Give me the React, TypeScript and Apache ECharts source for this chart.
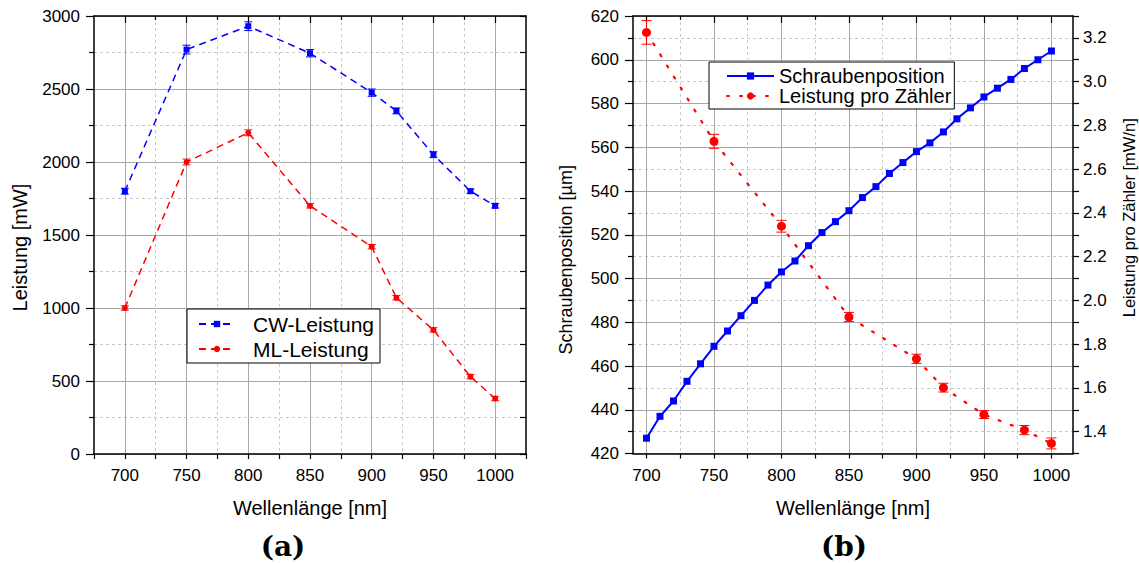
import { useEffect, useRef } from 'react';
import * as echarts from 'echarts';

// Left panel: output power vs. wavelength
const wavelengths = [700, 750, 800, 850, 900, 920, 950, 980, 1000];
const cwPower = [1800, 2770, 2930, 2745, 2475, 2350, 2050, 1800, 1700];
const cwPowerErr = [20, 30, 30, 25, 25, 20, 20, 15, 15];
const mlPower = [1000, 2000, 2200, 1700, 1420, 1070, 850, 530, 380];
const mlPowerErr = [15, 20, 20, 15, 15, 15, 15, 15, 15];

// Right panel: screw position and power per count vs. wavelength
const screwWavelengths = [700, 710, 720, 730, 740, 750, 760, 770, 780, 790, 800, 810, 820, 830, 840, 850, 860, 870, 880, 890, 900, 910, 920, 930, 940, 950, 960, 970, 980, 990, 1000];
const screwPosition = [427, 437, 444, 453, 461, 469, 476, 483, 490, 497, 503, 508, 515, 521, 526, 531, 537, 542, 548, 553, 558, 562, 567, 573, 578, 583, 587, 591, 596, 600, 604];
const powerPerCount = [3.225, 2.727, 2.339, 1.924, 1.733, 1.601, 1.478, 1.407, 1.346];
const powerPerCountErr = [0.054, 0.032, 0.027, 0.021, 0.021, 0.02, 0.018, 0.021, 0.025];

// Tick positions along the wavelength axes
const majorWl = [700, 750, 800, 850, 900, 950, 1000];
const minorWl = [725, 775, 825, 875, 925, 975];
const allWlLeft = [675, 700, 725, 750, 775, 800, 825, 850, 875, 900, 925, 950, 975, 1000, 1025];
const allWlRight = [700, 725, 750, 775, 800, 825, 850, 875, 900, 925, 950, 975, 1000];

const FONT = '"Liberation Sans", Arial, Helvetica, sans-serif';
const BLUE = '#0000ff';
const RED = '#ff0000';
const AXIS = { lineStyle: { color: '#000', width: 1.5 }, onZero: false };
const TICK_LINE = { color: '#000', width: 1.2 };
const GRID_SOLID = { show: true, lineStyle: { color: '#a8a8a8', width: 1 } };
const GRID_DASH = { show: true, lineStyle: { color: '#c8c8c8', width: 1, type: [3, 3] } };
const LABEL = { color: '#000', fontSize: 17, fontFamily: FONT, formatter: (v: number) => String(v) };
const NAME = { color: '#000', fontSize: 20, fontFamily: FONT };

function errorBars(color: string, cap: number) {
  return (_params: any, api: any) => {
    const x = api.value(0);
    const hi = api.coord([x, api.value(2)]);
    const lo = api.coord([x, api.value(1)]);
    const h = cap / 2;
    const style = { stroke: color, lineWidth: 1 };
    return {
      type: 'group',
      children: [
        { type: 'line', shape: { x1: hi[0], y1: hi[1], x2: lo[0], y2: lo[1] }, style },
        { type: 'line', shape: { x1: hi[0] - h, y1: hi[1], x2: hi[0] + h, y2: hi[1] }, style },
        { type: 'line', shape: { x1: lo[0] - h, y1: lo[1], x2: lo[0] + h, y2: lo[1] }, style },
      ],
    };
  };
}

function barData(xs: number[], ys: number[], errs: number[]) {
  return xs.map((x, i) => [x, ys[i] - errs[i], ys[i] + errs[i]]);
}

function pairs(xs: number[], ys: number[]) {
  return xs.map((x, i) => [x, ys[i]]);
}

function wavelengthAxes(gridIndex: number, min: number, max: number, bottomTicks: number[]) {
  return [
    {
      type: 'value', gridIndex, position: 'bottom', min, max,
      axisLine: AXIS,
      axisTick: { show: true, inside: false, length: 5, customValues: bottomTicks, lineStyle: TICK_LINE },
      axisLabel: { ...LABEL, margin: 13, customValues: majorWl },
      splitLine: { show: false },
      name: 'Wellenlänge [nm]', nameLocation: 'middle', nameGap: 44, nameTextStyle: NAME,
    },
    {
      type: 'value', gridIndex, position: 'top', min, max,
      axisLine: AXIS,
      axisTick: { show: true, inside: true, length: 7, customValues: majorWl, lineStyle: TICK_LINE },
      axisLabel: { show: false },
      splitLine: GRID_SOLID,
    },
    {
      type: 'value', gridIndex, position: 'top', min, max,
      axisLine: { show: false, onZero: false },
      axisTick: { show: true, inside: true, length: 4, customValues: minorWl, lineStyle: TICK_LINE },
      axisLabel: { show: false },
      splitLine: GRID_DASH,
    },
  ];
}

export default function App() {
  const ref = useRef<HTMLDivElement>(null);

  useEffect(() => {
    if (!ref.current) return;
    const chart = echarts.init(ref.current, undefined, { renderer: 'svg' });

    const option: any = {
      animation: false,
      backgroundColor: '#fff',
      textStyle: { fontFamily: FONT },
      grid: [
        { left: 94, top: 16, width: 432, height: 438 },
        { left: 633, top: 16, width: 440, height: 437.5 },
      ],
      xAxis: [
        ...wavelengthAxes(0, 675, 1025, allWlLeft),
        ...wavelengthAxes(1, 690, 1016, allWlRight),
      ],
      yAxis: [
        {
          type: 'value', gridIndex: 0, position: 'left', min: 0, max: 3000, interval: 500,
          axisLine: { show: true, ...AXIS },
          axisTick: { show: true, inside: false, length: 8, lineStyle: TICK_LINE },
          minorTick: { show: true, splitNumber: 2, length: 5, lineStyle: TICK_LINE },
          axisLabel: { ...LABEL, margin: 14 },
          splitLine: GRID_SOLID,
          minorSplitLine: GRID_DASH,
          name: 'Leistung [mW]', nameLocation: 'middle', nameGap: 64, nameRotate: 90,
          nameTextStyle: { ...NAME, padding: [0, 25, 0, 0] },
        },
        {
          type: 'value', gridIndex: 0, position: 'right', min: 0, max: 3000, interval: 250,
          axisLine: { show: true, ...AXIS },
          axisTick: { show: true, inside: true, length: 6, lineStyle: TICK_LINE },
          axisLabel: { show: false },
          splitLine: { show: false },
        },
        {
          type: 'value', gridIndex: 1, position: 'left', min: 420, max: 620, interval: 20,
          axisLine: { show: true, ...AXIS },
          axisTick: { show: true, inside: false, length: 8, lineStyle: TICK_LINE },
          minorTick: { show: true, splitNumber: 2, length: 5, lineStyle: TICK_LINE },
          axisLabel: { ...LABEL, margin: 14 },
          splitLine: GRID_SOLID,
          minorSplitLine: GRID_DASH,
          name: 'Schraubenposition [µm]', nameLocation: 'middle', nameGap: 58, nameRotate: 90,
          nameTextStyle: { ...NAME, fontSize: 18, padding: [0, 50, 0, 0] },
        },
        {
          type: 'value', gridIndex: 1, position: 'right', min: 1.3, max: 3.3, interval: 0.1,
          axisLine: { show: true, ...AXIS },
          axisTick: { show: true, inside: false, length: 6, lineStyle: TICK_LINE },
          axisLabel: {
            ...LABEL, margin: 10,
            formatter: (v: number) => (Math.round(v * 10) % 2 === 0 ? v.toFixed(1) : ''),
          },
          splitLine: { show: false },
          name: 'Leistung pro Zähler [mW/n]', nameLocation: 'middle', nameGap: 47, nameRotate: 90,
          nameTextStyle: { ...NAME, fontSize: 16.5, padding: [0, 0, 0, 34] },
        },
      ],
      legend: [
        {
          left: 187, top: 309, orient: 'vertical',
          data: ['CW-Leistung', 'ML-Leistung'],
          itemWidth: 36, itemHeight: 8, itemGap: 3,
          padding: [4, 6, 3, 11],
          backgroundColor: '#fff', borderColor: '#000', borderWidth: 1, borderRadius: 0,
          textStyle: { color: '#000', fontSize: 21, lineHeight: 22, fontFamily: FONT, padding: [0, 0, 0, 13] },
        },
        {
          left: 709, top: 62, orient: 'vertical',
          data: ['Schraubenposition', 'Leistung pro Zähler'],
          itemWidth: 47, itemHeight: 9, itemGap: 0,
          padding: [4, 3, 3, 17],
          backgroundColor: '#fff', borderColor: '#000', borderWidth: 1, borderRadius: 0,
          textStyle: { color: '#000', fontSize: 20, lineHeight: 20, fontFamily: FONT },
        },
      ],
      series: [
        {
          name: 'CW-Leistung', type: 'line', xAxisIndex: 0, yAxisIndex: 0,
          data: pairs(wavelengths, cwPower),
          symbol: 'rect', symbolSize: 6,
          lineStyle: { color: BLUE, width: 1.5, type: [7, 5] },
          itemStyle: { color: BLUE },
          z: 4,
        },
        {
          name: 'ML-Leistung', type: 'line', xAxisIndex: 0, yAxisIndex: 0,
          data: pairs(wavelengths, mlPower),
          symbol: 'circle', symbolSize: 6,
          lineStyle: { color: RED, width: 1.5, type: [7, 5] },
          itemStyle: { color: RED },
          z: 4,
        },
        {
          type: 'custom', xAxisIndex: 0, yAxisIndex: 0, silent: true, z: 3,
          renderItem: errorBars(BLUE, 8), encode: { x: 0, y: [1, 2] },
          data: barData(wavelengths, cwPower, cwPowerErr),
        },
        {
          type: 'custom', xAxisIndex: 0, yAxisIndex: 0, silent: true, z: 3,
          renderItem: errorBars(RED, 8), encode: { x: 0, y: [1, 2] },
          data: barData(wavelengths, mlPower, mlPowerErr),
        },
        {
          name: 'Schraubenposition', type: 'line', xAxisIndex: 3, yAxisIndex: 2,
          data: pairs(screwWavelengths, screwPosition),
          symbol: 'rect', symbolSize: 7,
          lineStyle: { color: BLUE, width: 2 },
          itemStyle: { color: BLUE },
          z: 4,
        },
        {
          name: 'Leistung pro Zähler', type: 'line', xAxisIndex: 3, yAxisIndex: 3,
          data: pairs(wavelengths, powerPerCount),
          symbol: 'circle', symbolSize: 9,
          lineStyle: { color: RED, width: 2.2, type: [2, 11], cap: 'round' },
          itemStyle: { color: RED },
          z: 4,
        },
        {
          type: 'custom', xAxisIndex: 3, yAxisIndex: 3, silent: true, z: 3,
          renderItem: errorBars(RED, 10), encode: { x: 0, y: [1, 2] },
          data: barData(wavelengths, powerPerCount, powerPerCountErr),
        },
      ],
      graphic: [
        {
          type: 'text', x: 283, y: 546,
          style: { text: '(a)', font: 'bold 28px "DejaVu Serif", "Liberation Serif", serif', fill: '#000', align: 'center', verticalAlign: 'middle' },
        },
        {
          type: 'text', x: 844, y: 546,
          style: { text: '(b)', font: 'bold 28px "DejaVu Serif", "Liberation Serif", serif', fill: '#000', align: 'center', verticalAlign: 'middle' },
        },
      ],
    };

    chart.setOption(option);
    return () => chart.dispose();
  }, []);

  return (
    <div
      ref={ref}
      style={{ position: 'fixed', left: 0, top: 0, width: 1139, height: 563, background: '#fff' }}
    />
  );
}
